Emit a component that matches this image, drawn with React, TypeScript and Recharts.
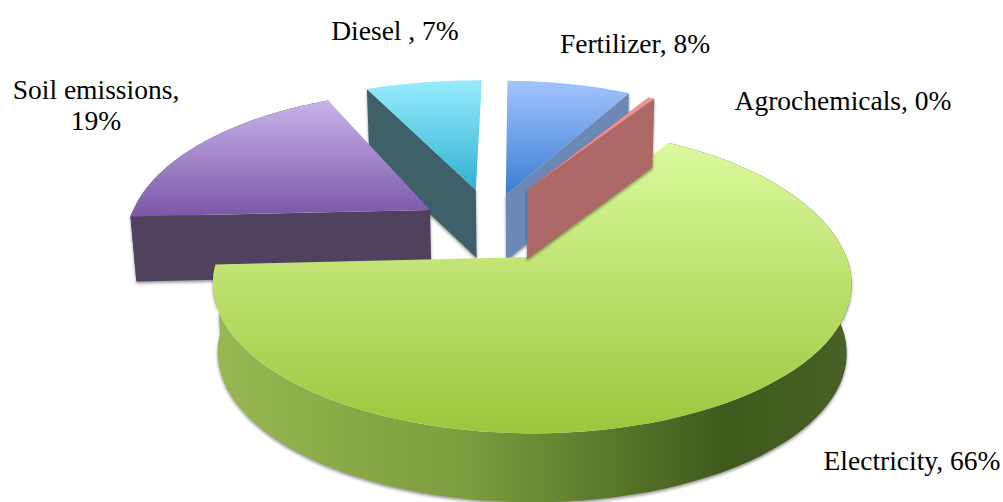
import React from 'react';
import { PieChart, Pie } from 'recharts';

const names = ['Fertilizer', 'Diesel', 'Soil emissions', 'Electricity', 'Agrochemicals'];
const values = [8, 7, 19, 66, 0.4];
const data = names.map((name, i) => ({ name, value: values[i] }));

const looks: Record<string, any> = {
  Fertilizer: { ox: -0.072, oy: -0.467, r: 1, back: 1.1, front: 1, shift: -0.012, lean: 0, depth: 66, top: ['#a2c4fb', '#3a7cd2'], face: '#6c88b4', showStart: true, showEnd: false, showWall: false },
  Diesel: { ox: -0.175, oy: -0.508, r: 1.065, back: 1, front: 1, shift: -0.012, lean: 0, depth: 68, top: ['#98ecfe', '#2fb0d0'], face: '#3e6068', showStart: false, showEnd: true, showWall: false },
  'Soil emissions': { ox: -0.323, oy: -0.347, r: 0.987, back: 1.12, front: 1, shift: 0, lean: 0.04, depth: 65, top: ['#c9b3ea', '#7a56a8'], face: '#50425e', showStart: false, showEnd: true, showWall: true, wall: ['#50425e', '#50425e', '#50425e', '#50425e'] },
  Electricity: { ox: 0, oy: 0, r: 0.985, back: 1.09, front: 1.022, shift: 0.016, lean: 0, depth: 69, top: ['#dcfa9e', '#9cc63c'], face: '#6d8f33', showStart: false, showEnd: false, showWall: true, wall: ['#97b852', '#7c9c3e', '#3f5a1c', '#4a6026'] },
  Agrochemicals: { ox: 0, oy: -0.508, r: 0.98, back: 1.02, front: 1, shift: 0, lean: 0, depth: 69, top: ['#f59494', '#e87c7c'], face: '#ad6868', showStart: true, showEnd: true, showWall: false },
};
const labelLayout: Record<string, any> = {
  Fertilizer: { x: 635, y: 53, lines: ['Fertilizer, 8%'] },
  Diesel: { x: 395, y: 40, lines: ['Diesel , 7%'] },
  'Soil emissions': { x: 96, y: 99, lines: ['Soil emissions,', '19%'] },
  Electricity: { x: 912, y: 470, lines: ['Electricity, 66%'] },
  Agrochemicals: { x: 843, y: 110, lines: ['Agrochemicals, 0%'] },
};

const TILT = 143.8 / 319;
const PERSP = 0.178;
const BASE_SHRINK = 0.985;
const EDGE_SHADOW = 'drop-shadow(0px 2px 1.5px rgba(0,0,0,0.4))';

function Slice(props: any) {
  const { cx, cy, outerRadius, startAngle, endAngle, name, payload } = props;
  const key = name ?? payload?.name;
  const look = looks[key];
  const project = (u: number, v: number): [number, number] => {
    const s = 1 / (1 - PERSP * v);
    return [cx + outerRadius * u * s, cy + outerRadius * TILT * v * s];
  };
  const rim = (deg: number) => {
    const a = (deg * Math.PI) / 180;
    const sin = Math.sin(a);
    return project(
      look.ox + look.shift + look.r * Math.cos(a) - look.lean * Math.max(sin, 0),
      look.oy - look.r * sin * (sin > 0 ? look.back : look.front),
    );
  };
  const apex = project(look.ox, look.oy);
  const steps = 90;
  const arc: [number, number][] = [];
  for (let i = 0; i <= steps; i++) arc.push(rim(startAngle + ((endAngle - startAngle) * i) / steps));
  const down = (p: [number, number]): [number, number] => [cx + (p[0] - cx) * BASE_SHRINK, p[1] + look.depth];
  const d = (pts: [number, number][]) => 'M' + pts.map((p) => `${p[0].toFixed(1)},${p[1].toFixed(1)}`).join('L') + 'Z';
  const first = arc[0];
  const last = arc[arc.length - 1];
  const gid = key.replace(/\W/g, '');
  return (
    <g>
      <defs>
        <linearGradient id={`top${gid}`} x1="0" y1="0" x2="0" y2="1">
          <stop offset="0" stopColor={look.top[0]} />
          <stop offset="1" stopColor={look.top[1]} />
        </linearGradient>
        {look.showWall && (
          <linearGradient id={`wall${gid}`} x1="0" y1="0" x2="1" y2="0">
            <stop offset="0" stopColor={look.wall[0]} />
            <stop offset="0.4" stopColor={look.wall[1]} />
            <stop offset="0.8" stopColor={look.wall[2]} />
            <stop offset="1" stopColor={look.wall[3]} />
          </linearGradient>
        )}
      </defs>
      <g style={{ filter: EDGE_SHADOW }}>
        {look.showStart && <path d={d([apex, first, down(first), down(apex)])} fill={look.face} />}
        {look.showEnd && <path d={d([apex, last, down(last), down(apex)])} fill={look.face} />}
        {look.showWall && <path d={d([...arc, ...arc.map(down).reverse()])} fill={`url(#wall${gid})`} />}
      </g>
      <path d={d([apex, ...arc])} fill={`url(#top${gid})`} />
    </g>
  );
}

function Label(props: any) {
  const layout = labelLayout[props.name];
  return (
    <text textAnchor="middle" fontFamily="Liberation Serif" fontSize={27.5} fill="#000">
      {layout.lines.map((line: string, i: number) => (
        <tspan key={i} x={layout.x} y={layout.y + i * 31}>{line}</tspan>
      ))}
    </text>
  );
}

export default function App() {
  return (
    <div style={{ position: 'absolute', left: 0, top: 0, width: 1003, height: 502, background: '#fff' }}>
      <PieChart width={1003} height={502} margin={{ top: 0, right: 0, bottom: 0, left: 0 }}>
        <Pie
          data={data}
          dataKey="value"
          nameKey="name"
          cx={527}
          cy={257}
          innerRadius={0}
          outerRadius={319}
          startAngle={61}
          endAngle={421}
          stroke="none"
          isAnimationActive={false}
          shape={Slice}
          label={Label}
          labelLine={false}
        />
      </PieChart>
    </div>
  );
}
